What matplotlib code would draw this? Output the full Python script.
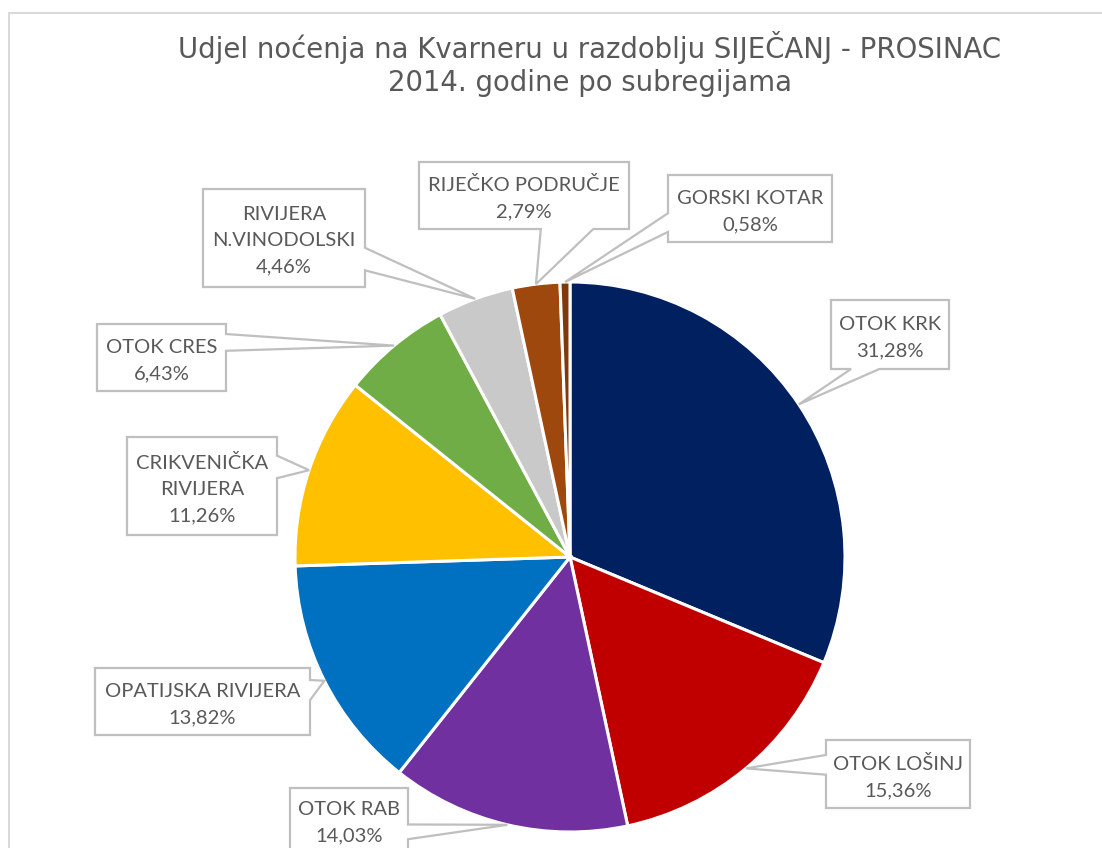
import matplotlib.pyplot as plt
from matplotlib.patches import Polygon
import numpy as np

W, H = 1102, 848

regions = ["OTOK KRK", "OTOK LOŠINJ", "OTOK RAB", "OPATIJSKA RIVIJERA",
           "CRIKVENIČKA\nRIVIJERA", "OTOK CRES", "RIVIJERA\nN.VINODOLSKI",
           "RIJEČKO PODRUČJE", "GORSKI KOTAR"]
shares = [31.28, 15.36, 14.03, 13.82, 11.26, 6.43, 4.46, 2.79, 0.58]
colors = ["#002060", "#C00000", "#7030A0", "#0070C0", "#FFC000",
          "#70AD47", "#C9C9C9", "#9E480E", "#7F3A0C"]

title = "Udjel noćenja na Kvarneru u razdoblju SIJEČANJ - PROSINAC\n2014. godine po subregijama"

# callout boxes in pixels (x0, y0, x1, y1), side of the tail, tail span on that side
boxes = [
    ((831, 300, 949, 369), "bottom", (0.17, 0.41)),
    ((826, 740, 970, 808), "left", (0.22, 0.51)),
    ((290, 788, 408, 852), "right", (0.57, 0.80)),
    ((95, 668, 310, 735), "right", (0.18, 0.48)),
    ((127, 437, 277, 535), "right", (0.19, 0.42)),
    ((97, 324, 226, 391), "right", (0.15, 0.40)),
    ((203, 189, 365, 287), "right", (0.60, 0.83)),
    ((419, 162, 629, 229), "bottom", (0.58, 0.83)),
    ((668, 175, 832, 242), "left", (0.57, 0.85)),
]

cx, cy, r = 570, H - 557, 275


def d(p):
    return (p[0], H - p[1])


def callout(box, side, f, tip):
    x0, y0, x1, y1 = box
    if side == "bottom":
        a = x0 + f[0] * (x1 - x0)
        b = x0 + f[1] * (x1 - x0)
        pts = [d((x0, y0)), d((x1, y0)), d((x1, y1)), d((b, y1)), tip, d((a, y1)), d((x0, y1))]
    elif side == "left":
        a = y0 + f[0] * (y1 - y0)
        b = y0 + f[1] * (y1 - y0)
        pts = [d((x0, y0)), d((x1, y0)), d((x1, y1)), d((x0, y1)), d((x0, b)), tip, d((x0, a))]
    else:
        a = y0 + f[0] * (y1 - y0)
        b = y0 + f[1] * (y1 - y0)
        pts = [d((x0, y0)), d((x1, y0)), d((x1, a)), tip, d((x1, b)), d((x1, y1)), d((x0, y1))]
    return pts


fig = plt.figure(figsize=(W / 100, H / 100), dpi=100)
ax = fig.add_axes([0, 0, 1, 1])

wedges, _ = ax.pie(shares, colors=colors, startangle=90, counterclock=False,
                   center=(cx, cy), radius=r,
                   wedgeprops=dict(edgecolor="white", linewidth=2.2))
ax.set_xlim(0, W)
ax.set_ylim(0, H)
ax.set_aspect("equal")
ax.axis("off")

# chart frame
ax.plot([9, 9, W + 5], [-5, H - 13, H - 13], color="#D9D9D9", lw=1.5, clip_on=False)

for w, name, val, (box, side, f) in zip(wedges, regions, shares, boxes):
    ang = np.deg2rad((w.theta1 + w.theta2) / 2)
    tip = (cx + r * np.cos(ang), cy + r * np.sin(ang))
    pts = callout(box, side, f, tip)
    ax.add_patch(Polygon(pts, closed=True, facecolor="white", edgecolor="#BFBFBF",
                         lw=1.6, zorder=5))
    x0, y0, x1, y1 = box
    txt = name + "\n" + f"{val:.2f}".replace(".", ",") + "%"
    ax.text((x0 + x1) / 2, H - (y0 + y1) / 2 - 3, txt, ha="center", va="center",
            fontsize=14.5, color="#595959", family="Lato", linespacing=1.65, zorder=6)

fig.text(590 / W, 1 - 64 / H, title, ha="center", va="center", fontsize=19.8,
         color="#595959", family="DejaVu Sans", linespacing=1.2)

fig.savefig("out.png", dpi=100)
